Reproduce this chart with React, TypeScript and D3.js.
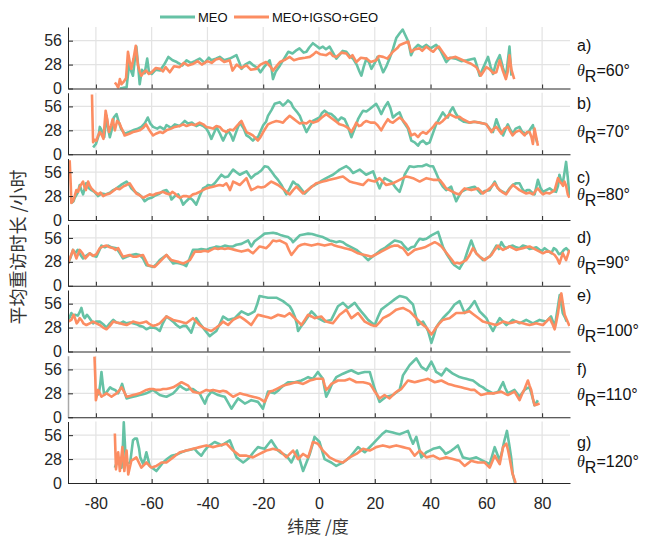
import React, { useEffect, useRef } from "react";
import * as d3 from "d3";

type Pt = [number, number];

const latTicks = [-80, -60, -40, -20, 0, 20, 40, 60, 80];
const valueTicks = [0, 28, 56];
const panelLetters = ["a)", "b)", "c)", "d)", "e)", "f)", "g)"];
const thetaValues = ["60°", "70°", "80°", "90°", "100°", "110°", "120°"];
const seriesNames = ["MEO", "MEO+IGSO+GEO"];

// [latitude, mean revisit hours]
const meoA: Pt[] = [[-71.4,0],[-70,1],[-69,1],[-68,31],[-67.3,20],[-66.7,15],[-65.5,49],[-64.8,25],[-64.3,5],[-63.5,22],[-62.5,18],[-61.6,35],[-61,20],[-60,17],[-58.5,22],[-57,21],[-55.5,28],[-54,37],[-52.5,33],[-51,31],[-49,27],[-47.5,33],[-46,30],[-44.5,32],[-42.8,35],[-41,30],[-39.5,36],[-38.6,33],[-37,35],[-35.6,37],[-34,33],[-32,35],[-29.6,39],[-28.5,30],[-27.8,23],[-26.5,28],[-24.9,31],[-23.5,27],[-22,24],[-21,19],[-19.5,26],[-17.7,33],[-17,23],[-16.5,11],[-15.5,20],[-14,27],[-12.5,35],[-11,43],[-9.5,41],[-8,45],[-7,47],[-5.5,42],[-4.5,43],[-3.5,48],[-2.2,53],[-1,50],[0.2,47],[1.4,49],[2.5,46],[3.8,49],[5,42],[6.2,35],[7.5,40],[8.5,44],[9.8,43],[11,38],[12.2,35],[13.5,28],[14.5,20],[15.2,15],[16,25],[17,35],[18,30],[18.8,23],[20,30],[21,37],[22,28],[23,19],[24,25],[25.3,35],[26.5,46],[27.7,59],[29,65],[30,69],[31,62],[32,55],[33,39],[34,46],[35.5,51],[37,48],[38.5,51],[40,47],[42,51],[43.5,45],[45.6,31],[47,36],[49,35],[51,32],[53,33],[55.8,35],[56.5,28],[57.6,15],[59,25],[60.6,37],[61.5,26],[62.4,17],[63.5,30],[64.8,39],[66,24],[67,13],[68.3,49],[69,15]];
const allA: Pt[] = [[-73.2,7],[-72.5,4],[-72,1],[-71.4,11],[-70.8,5],[-70,8],[-69.2,12],[-68.5,43],[-67.8,30],[-67.3,23],[-66.5,35],[-65.7,50],[-64.9,27],[-64.3,20],[-63.7,15],[-62.8,19],[-62,21],[-61,17],[-60,19],[-58.5,24],[-57,23],[-56,20],[-55,25],[-53.5,19],[-52,26],[-50,25],[-48.5,30],[-47,27],[-45,29],[-43.5,32],[-42,28],[-40,32],[-38.5,30],[-37,34],[-35.6,35],[-34,31],[-32,33],[-31,21],[-29.5,28],[-28,24],[-26,27],[-24.5,22],[-22.5,23],[-21,28],[-19,31],[-17.5,26],[-16.5,21],[-15,27],[-14,31],[-12,34],[-10.5,37],[-9,33],[-7,35],[-5,36],[-3.3,37],[-2,40],[-1,43],[0.5,40],[2.6,39],[4,42],[5,38],[6.2,37],[8,42],[9.8,41],[11,36],[12,39],[13.4,31],[15,36],[17,35],[18.5,31],[20.5,33],[21.5,38],[23,37],[24.5,35],[26.5,43],[28,47],[29,51],[30.5,53],[32,55],[33,43],[34.5,46],[36,47],[37,44],[38.5,49],[40,45],[41,43],[42,47],[43,49],[44.5,42],[46,35],[47.5,36],[49,37],[51,34],[53,31],[54.5,29],[56.4,25],[57.3,20],[58,15],[59,20],[60,25],[61,23],[62.5,18],[63.6,19],[64.8,33],[65.8,22],[67,11],[67.7,20],[68.3,39],[69,22],[70,11]];

const meoB: Pt[] = [[-81,8],[-80,12],[-79.8,14],[-79,22],[-78.6,32],[-77.5,25],[-77,20],[-76.2,45],[-75.5,28],[-75,20],[-74.2,30],[-73.6,43],[-72.6,47],[-71.8,38],[-71,30],[-69.7,24],[-68,26],[-66.7,28],[-65,30],[-63.7,32],[-62.5,36],[-61.4,43],[-60.5,36],[-59.5,32],[-58,30],[-57,32],[-55.5,29],[-54.7,34],[-53,31],[-51.7,35],[-50,33],[-48.1,39],[-47,36],[-45.5,37],[-44,33],[-42.8,35],[-41.5,33],[-40.4,30],[-39.5,25],[-38.6,18],[-37.5,26],[-36.8,32],[-35.5,24],[-34.4,16],[-33.5,22],[-32.6,28],[-31.5,22],[-30.8,16],[-29.5,28],[-28.4,37],[-27,30],[-26,22],[-25,20],[-23.7,16],[-22.8,19],[-21.9,20],[-20,34],[-19,38],[-18.3,45],[-17,52],[-15.9,59],[-15,60],[-14.1,61],[-12.9,57],[-11.9,60],[-11.1,63],[-10,60],[-9.3,55],[-8,50],[-6.9,45],[-5.7,35],[-4.5,26],[-3.3,33],[-2.2,39],[-1,41],[0.2,43],[1,48],[2,51],[3.2,48],[4.4,47],[5.5,44],[6.8,39],[8,43],[9.2,41],[10.3,33],[11.6,20],[12.8,30],[14,41],[15,47],[15.8,51],[17,50],[18.2,53],[19.3,56],[20.5,59],[21.5,53],[22.3,47],[23.5,55],[24.7,61],[25.6,54],[26.5,43],[27.5,46],[28.9,49],[30.1,39],[31.9,30],[33.1,16],[34.3,14],[35.5,10],[36.3,14],[37.3,16],[38.5,12],[39.7,14],[40.9,25],[42,35],[43.2,42],[44.4,49],[45.3,45],[46.2,43],[47,50],[48,55],[49,48],[50.4,41],[52,38],[54,37],[55.8,38],[57.5,37],[59,36],[60,35],[61.2,30],[62.4,26],[63.6,41],[64.8,30],[66,22],[67,30],[67.7,35],[68.7,28],[69.5,24],[70.5,30],[71.9,32],[72.9,26],[74.3,24],[75.5,28],[76.7,34],[77.5,22],[78.2,14]];
const allB: Pt[] = [[-81.4,70],[-81.2,40],[-81,14],[-80.4,17],[-79.8,16],[-79.2,22],[-78.6,26],[-77.8,22],[-77.3,18],[-76.5,51],[-75.9,40],[-75.3,26],[-74.6,33],[-74,41],[-73.2,28],[-72.4,39],[-71.5,36],[-71,32],[-70.3,27],[-69.7,22],[-68,24],[-66.7,26],[-65.5,27],[-64.3,28],[-63,31],[-62,35],[-61,29],[-59.5,22],[-58.5,24],[-57,26],[-56,25],[-54.7,28],[-53,30],[-51.7,32],[-50,33],[-48.7,35],[-47.5,33],[-45.8,35],[-44.5,34],[-42.8,37],[-41.5,35],[-40.4,32],[-39,31],[-38,30],[-36.8,33],[-35.6,32],[-34.5,28],[-33.2,26],[-32,29],[-30.8,28],[-29.5,33],[-27.8,39],[-27,33],[-26,26],[-24.8,24],[-23.7,22],[-22.8,19],[-21.9,16],[-21,20],[-20,26],[-18.3,35],[-17,37],[-15.3,39],[-14,38],[-12.9,37],[-11.8,41],[-10.5,45],[-9.3,42],[-8.1,39],[-6.9,36],[-5.7,37],[-4.5,36],[-3.3,39],[-2,37],[-0.4,39],[1,43],[2.6,47],[3.8,44],[5,41],[6.2,38],[7.4,35],[8.6,34],[9.8,32],[10.7,30],[11.6,26],[12.5,31],[13.4,37],[14.3,33],[15.2,34],[16,37],[17,39],[18.5,37],[20,37],[21,34],[22.3,28],[23.5,35],[24.7,41],[25.6,38],[26.5,37],[27.7,40],[28.9,43],[30,40],[31.3,35],[32.2,30],[33.1,22],[34.3,24],[35.5,20],[36.4,24],[37.3,26],[38.5,24],[39.7,28],[40.9,32],[42,37],[43.2,36],[44.4,39],[45.6,43],[46.8,47],[48,45],[49.2,43],[50.4,44],[51.6,41],[52.8,39],[54,37],[55.5,38],[57.6,37],[59,36],[60,35],[61,30],[61.8,26],[62.7,30],[63.6,32],[64.5,28],[65.4,24],[66.5,30],[67.7,32],[68.5,27],[69.4,22],[70.5,26],[71.9,28],[72.8,25],[73.7,22],[74.6,26],[75.5,26],[76.2,20],[76.7,12],[77.3,30],[77.9,20],[78.5,10]];

const meoC: Pt[] = [[-88.8,20],[-88,22],[-87.6,26],[-86.5,32],[-85.8,41],[-85.2,35],[-84.6,30],[-83.5,43],[-82.8,38],[-81.6,35],[-80.5,33],[-79.2,28],[-78,31],[-76.5,30],[-75,32],[-73.8,35],[-72.6,37],[-71,41],[-69,45],[-68,41],[-67.3,37],[-66,33],[-64.9,31],[-63.5,27],[-62.5,22],[-61.3,25],[-60.1,26],[-58.5,29],[-57.1,31],[-55.9,34],[-54.7,35],[-53.5,30],[-52.9,24],[-51.7,28],[-50.5,30],[-49.6,25],[-48.7,18],[-47.6,22],[-46.3,26],[-45.2,23],[-44,18],[-42.8,28],[-41.6,37],[-40.4,39],[-39.8,41],[-38.5,40],[-37.4,43],[-36.2,48],[-35,53],[-33.8,50],[-32.6,51],[-31.7,55],[-30.8,59],[-29.6,56],[-28.4,53],[-27.2,55],[-26,57],[-25,52],[-24.3,49],[-23,53],[-21.9,55],[-20.7,58],[-19.5,63],[-18.3,62],[-17.1,57],[-16,52],[-14.7,47],[-13.3,40],[-11.7,30],[-10.5,37],[-9.3,45],[-8.3,42],[-7.5,41],[-6.3,36],[-5.1,31],[-3.9,35],[-2.7,39],[-1.5,41],[-0.4,43],[1,46],[2.6,49],[3.8,51],[5,53],[6.2,56],[7.4,59],[8.6,61],[9.8,63],[11,60],[12.2,55],[13.4,57],[14.6,59],[15.8,56],[16.9,53],[18.2,55],[19.4,57],[20.5,47],[21.7,37],[22.6,44],[23.5,49],[24.7,47],[25.9,45],[26.8,41],[27.7,37],[28.9,33],[29.8,42],[30.7,53],[31.6,58],[32.5,63],[34,62],[35.5,63],[37,63],[38.5,65],[39.7,63],[40.9,63],[42,55],[43.3,45],[44.4,39],[45.6,35],[46.5,37],[47.4,39],[48.3,30],[49.2,22],[50,27],[51,33],[52.2,35],[53.4,37],[54.6,38],[55.8,39],[57,35],[58.1,31],[59.5,34],[61.2,35],[62.1,40],[63,45],[64,38],[64.8,35],[66,33],[67.1,31],[68.3,37],[69.5,41],[70.7,43],[71.9,43],[72.8,37],[73.7,33],[74.6,35],[75.5,35],[76.4,32],[77.3,30],[78.5,47],[79.4,38],[80.3,33],[81.5,35],[82.7,37],[84,34],[85,33],[85.7,40],[86.2,53],[86.9,45],[87.4,43],[88,55],[88.6,68],[89.2,50],[89.8,28]];
const allC: Pt[] = [[-89.4,70],[-89,40],[-88.8,20],[-88.2,22],[-87.6,28],[-87,35],[-86.4,33],[-85.8,39],[-85.2,42],[-84.6,45],[-84,38],[-83.6,35],[-82.8,45],[-82.2,40],[-81.6,37],[-80.4,33],[-79.2,30],[-78.3,32],[-77.4,28],[-76.2,30],[-75,31],[-73.8,34],[-72.6,37],[-71.5,36],[-70.3,39],[-69,41],[-67.9,43],[-66.7,37],[-65.5,31],[-64.3,29],[-63.1,26],[-61.9,28],[-60.7,30],[-59.5,29],[-58.3,31],[-57.1,32],[-55.9,33],[-54.7,31],[-53.5,30],[-52.6,33],[-51.7,31],[-50.8,28],[-49.9,26],[-48.7,28],[-47.6,28],[-46.4,27],[-45.2,30],[-44,31],[-42.8,33],[-41.6,35],[-40.4,37],[-39.2,38],[-38,39],[-36.8,40],[-35.6,41],[-34.4,40],[-33.2,43],[-32.5,39],[-31.9,35],[-31.3,40],[-30.8,45],[-29.6,43],[-28.4,41],[-27.2,45],[-26,49],[-25.2,42],[-24.3,35],[-23,37],[-21.9,39],[-20.7,38],[-19.5,39],[-18.3,42],[-17.1,45],[-15.9,43],[-14.7,41],[-13.5,38],[-12.3,35],[-11.4,32],[-10.5,30],[-9.3,35],[-8.1,39],[-6.9,35],[-5.7,31],[-4.5,34],[-3.3,37],[-2.1,40],[-1,43],[0.2,44],[1.4,45],[2.6,46],[3.8,47],[5,48],[6.2,49],[7.4,50],[8.6,51],[9.8,48],[11,45],[12.2,44],[13.4,43],[14.6,42],[15.8,41],[16.7,44],[17.6,47],[18.8,46],[20,45],[20.9,47],[21.7,49],[22.9,45],[24.1,41],[25.3,42],[26.5,43],[27.7,45],[28.9,47],[30.1,49],[31.3,51],[32.5,50],[33.7,49],[34.9,47],[36.1,45],[37.3,47],[38.5,49],[39.7,48],[40.9,47],[42.1,47],[43.3,47],[44.5,42],[45.6,37],[46.8,35],[48,33],[49.2,31],[50.4,30],[51.3,34],[52.2,37],[53.4,36],[54.6,35],[55.8,36],[57,37],[57.9,34],[58.8,31],[60,34],[61.2,37],[62.1,40],[63,43],[64,38],[64.8,35],[66,32],[67.1,30],[68.3,36],[69.5,41],[70.7,38],[71.9,35],[73.1,33],[74.3,31],[75.5,32],[76.7,30],[77.6,34],[78.5,37],[79.4,33],[80.3,30],[81.5,32],[82.7,31],[83.6,33],[84.5,35],[85.1,42],[85.7,49],[86.3,45],[86.9,43],[87.5,40],[88,45],[88.6,40],[89.2,30],[89.8,26]];

const meoD: Pt[] = [[-90,26],[-89.1,33],[-88.2,42],[-87.4,38],[-86.5,42],[-85.5,36],[-84.6,32],[-83.5,35],[-82.2,38],[-81,35],[-79.8,34],[-78,47],[-76.8,45],[-75.6,47],[-74.4,45],[-72.6,44],[-71.4,38],[-70.3,32],[-69,34],[-67.3,36],[-65.5,37],[-64.3,36],[-63.1,32],[-61.9,24],[-60.7,23],[-59.5,22],[-58.3,25],[-57.1,30],[-55.9,33],[-54.7,36],[-53.5,31],[-52.3,26],[-51.1,27],[-49.9,26],[-48.7,25],[-47.6,23],[-46.4,32],[-45.2,42],[-43.4,42],[-42.2,43],[-40.4,42],[-39,44],[-37.4,45],[-36.8,46],[-35.2,45],[-33.8,47],[-32.3,46],[-30.8,46],[-29.6,48],[-27.8,49],[-26.6,51],[-25.4,53],[-24.3,46],[-23.1,52],[-21.9,55],[-20.7,58],[-19.5,61],[-18,61.5],[-16.5,62],[-15,61],[-13.5,59],[-12.3,58],[-11.1,57],[-9.9,54],[-9.3,51],[-8.1,55],[-6.9,59],[-5.5,60],[-3.9,61],[-2.5,60.5],[-1,59],[0.2,58],[1.4,57],[2.6,55],[3.8,53],[5,52],[6.2,51],[7.4,52],[8.6,51],[9.8,48],[11,46],[12.2,44],[13.4,42],[14.6,39],[15.8,36],[16.7,33],[17.6,30],[18.8,33],[20,36],[21.1,39],[22.3,42],[23.5,44],[24.7,47],[25.9,50],[27.1,53],[28.3,52],[29.5,51],[30.7,46],[31.9,42],[33.1,45],[34.3,46],[35.2,51],[36.1,55],[37.3,54],[38.5,55],[39.4,57],[40.3,59],[41.5,61],[42.7,63],[43.5,55],[44.4,46],[45.6,38],[46.8,32],[47.7,27],[48.6,24],[49.5,22],[50.4,20],[51.3,25],[52.2,30],[53.4,42],[54.6,53],[55.5,45],[56.4,38],[57.6,34],[58.8,30],[60,32],[61.2,34],[62.4,40],[63.6,47],[64.5,43],[65.4,51],[66.3,46],[67.2,44],[68.3,46],[69.5,47],[70.7,45],[71.9,44],[73.1,47],[74.3,46],[75.5,43],[76.7,44],[77.9,45],[79.1,42],[80,41],[80.9,44],[82.1,41],[83.3,38],[84.2,44],[85.1,42],[86,37],[86.9,38],[87.8,42],[88.6,44],[89.8,40]];
const allD: Pt[] = [[-90,26],[-89.1,34],[-88.2,42],[-87.4,36],[-87,32],[-85.8,42],[-84.8,38],[-83.8,32],[-82.2,38],[-81,35],[-79.8,37],[-78.6,44],[-77.4,46],[-76.2,47],[-75,45],[-73.8,44],[-72.9,42],[-72,44],[-71,38],[-70.3,34],[-69,35],[-67.9,36],[-66.7,34],[-65.5,34],[-64.3,35],[-63.1,36],[-62.2,30],[-61.3,24],[-60.1,23],[-58.9,22],[-58,25],[-57.1,28],[-55.9,32],[-54.7,36],[-53.8,33],[-52.9,30],[-51.7,29],[-50.5,28],[-49.6,27],[-48.7,26],[-47.5,28],[-46.3,30],[-45.4,35],[-44.5,40],[-43.3,40],[-42.2,40],[-41,41],[-39.8,40],[-38.6,42],[-37.4,44],[-36.2,43],[-35,44],[-33.8,43],[-32.6,44],[-31.4,43],[-30.2,42],[-29,41],[-27.8,40],[-26.6,41],[-25.4,42],[-24.6,40],[-23.7,38],[-22.5,42],[-21.3,46],[-20.1,45],[-18.9,44],[-17.7,48],[-16.5,53],[-15.3,52],[-14.1,53],[-12.9,51],[-11.7,49],[-10.8,42],[-9.9,36],[-8.7,41],[-7.5,46],[-6.3,48],[-5.1,49],[-3.9,48],[-2.7,47],[-1.5,48],[-0.4,49],[0.8,48],[2,47],[3.2,48],[4.4,49],[5.6,47],[6.8,46],[8,45],[9.2,44],[10.4,43],[11.6,42],[12.8,40],[14,38],[15.2,37],[16.4,36],[17.6,35],[18.8,34],[20,36],[21.2,38],[22.3,40],[23.5,42],[24.7,44],[25.9,46],[27.1,47],[28.3,47],[29.2,45],[30.1,44],[31,40],[31.9,36],[33.1,39],[34.3,42],[35.5,43],[36.7,44],[37.9,45],[39.1,47],[40.3,49],[41.5,51],[42.7,49],[43.9,46],[45.1,41],[46.3,36],[47.5,31],[48.6,26],[49.5,27],[50.4,26],[51.6,28],[52.8,30],[54,36],[55.2,44],[56.4,38],[57.6,34],[58.5,32],[59.4,30],[60.6,33],[61.8,36],[63,42],[64.2,47],[65.1,44],[66,42],[67.2,44],[68.3,46],[69.5,44],[70.7,42],[71.9,43],[73.1,44],[74.3,45],[75.5,46],[76.7,44],[77.9,42],[79.1,40],[80.3,38],[81.5,40],[82.7,40],[83.6,38],[84.5,36],[85.4,32],[86.2,26],[87.4,38],[88,34],[88.6,30],[89.8,42]];

const meoE: Pt[] = [[-90,37],[-89.4,40],[-88.8,45],[-88,41],[-87.5,43],[-86.5,42],[-85.8,46],[-85.2,51],[-84.5,42],[-84,39],[-83.2,43],[-82.5,40],[-81,33],[-80,35],[-78.6,35],[-77.4,32],[-76.2,28],[-75,33],[-73.8,37],[-72.6,34],[-71.4,33],[-70.2,35],[-69,33],[-67.8,34],[-66.7,33],[-65.5,32],[-64.3,30],[-63.1,29],[-61.9,26],[-60.7,28],[-59.5,28],[-58.3,27],[-57.1,24],[-56,33],[-54.7,41],[-53.5,38],[-52.3,35],[-51.1,31],[-49.9,28],[-48.7,30],[-47.6,30],[-46.7,26],[-45.8,22],[-45,30],[-44,39],[-42.8,33],[-41.6,28],[-40.4,23],[-39.2,18],[-38,21],[-36.8,24],[-35.6,32],[-34.4,41],[-33.5,39],[-32.6,37],[-31.4,38],[-30.2,39],[-29,43],[-27.8,47],[-26.6,45],[-25.4,43],[-24.2,45],[-23.1,47],[-22.2,55],[-21.3,65],[-20,64],[-18.3,63],[-16.8,63],[-15.3,63],[-14.1,61],[-12.9,59],[-11.7,56],[-10.5,53],[-9.6,48],[-8.7,41],[-8,33],[-7.5,24],[-6.3,30],[-5.1,35],[-3.9,41],[-2.7,47],[-1.5,43],[-0.4,39],[0.8,37],[2,35],[3.2,36],[4.4,37],[5.6,45],[6.8,53],[7.7,55],[8.6,57],[9.5,54],[10.4,51],[11.6,54],[12.8,57],[13.9,52],[15.1,47],[16.4,42],[17.6,37],[18.8,34],[20,31],[21.1,40],[22.3,49],[23.5,52],[24.7,55],[25.9,58],[27.1,61],[28,63],[28.9,65],[30.1,64],[31.3,63],[32.5,59],[33.7,55],[34.6,43],[35.5,31],[36.4,33],[37.3,35],[38.2,30],[39.1,24],[39.7,17],[40.3,10],[41.2,19],[42,28],[43.2,34],[44.4,39],[45.6,43],[46.8,47],[47.7,51],[48.6,55],[49.5,57],[50.4,59],[51.3,52],[52.2,45],[53.1,48],[54,51],[54.9,55],[55.8,59],[56.7,53],[57.6,47],[58.8,43],[60,39],[61.2,31],[62.4,24],[63.6,32],[64.8,39],[66,35],[67.2,31],[68.3,34],[69.5,37],[70.7,35],[71.9,33],[73.1,35],[74.3,37],[75.5,35],[76.7,33],[77.9,35],[79.1,37],[80.2,36],[81.4,35],[82.3,38],[83.2,41],[83.9,35],[84.5,28],[85.4,47],[86.3,66],[86.9,55],[87.4,45],[88.2,40],[88.8,35]];
const allE: Pt[] = [[-90,35],[-89.4,36],[-88.8,37],[-88,43],[-87.6,40],[-86.9,33],[-86.4,35],[-85.8,39],[-85,36],[-84.5,33],[-83.4,31],[-82.2,33],[-81,35],[-79.8,33],[-78.6,31],[-77.4,28],[-76.2,26],[-75,30],[-73.8,35],[-72.6,34],[-71.4,33],[-70.2,32],[-69,31],[-67.8,33],[-66.7,35],[-65.5,34],[-64.3,33],[-63.1,34],[-61.9,35],[-60.7,32],[-59.5,30],[-58.3,31],[-57.1,33],[-55.9,37],[-54.7,41],[-53.5,39],[-52.3,37],[-51.1,36],[-49.9,35],[-48.7,34],[-47.6,33],[-46.4,36],[-45.2,39],[-44,35],[-42.8,31],[-41.6,28],[-40.4,26],[-39.5,25],[-38.6,24],[-37.7,26],[-36.8,28],[-35.6,31],[-34.4,35],[-33.5,33],[-32.6,31],[-31.7,34],[-30.8,37],[-29.6,39],[-28.4,41],[-27.5,39],[-26.6,37],[-25.4,34],[-24.3,31],[-23.1,37],[-21.9,43],[-20.7,42],[-19.5,41],[-18.3,40],[-17.1,39],[-15.9,41],[-14.7,43],[-13.5,42],[-12.3,41],[-11.4,43],[-10.5,45],[-9.3,41],[-8.1,37],[-7.2,34],[-6.3,31],[-5.1,37],[-3.9,43],[-2.7,41],[-1.6,39],[-0.4,40],[0.8,41],[1.7,38],[2.6,35],[3.8,34],[5,33],[6.2,38],[7.4,43],[8.6,46],[9.8,49],[10.7,44],[11.6,39],[12.8,42],[14,45],[15.2,40],[16.4,35],[17.6,33],[18.8,31],[19.7,30],[20.5,30],[21.7,34],[22.9,39],[24.1,41],[25.3,43],[26.5,46],[27.7,49],[28.9,50],[30.1,51],[31.3,49],[32.5,47],[33.4,44],[34.3,41],[35.2,38],[36.1,35],[37.3,31],[38.5,28],[39.4,24],[40.3,20],[41.2,24],[42,28],[43.2,33],[44.4,37],[45.6,38],[46.8,39],[48,42],[49.2,45],[50.4,45],[51.6,45],[52.8,46],[54,47],[55.2,44],[56.4,41],[57.6,38],[58.8,35],[60,34],[61.2,33],[62.4,32],[63.6,31],[64.8,33],[66,35],[67.2,34],[68.3,33],[69.5,34],[70.7,35],[71.9,34],[73.1,33],[74.3,32],[75.5,31],[76.7,32],[77.9,33],[79.1,32],[80.3,31],[81.5,35],[82.7,39],[83.6,33],[84.5,26],[85.1,35],[85.7,45],[86.3,60],[86.9,68],[87.5,55],[88.1,43],[89,36],[89.8,30]];

const meoF: Pt[] = [[-80,24],[-79.5,26],[-78.9,28],[-78.4,40],[-78,53],[-77.5,38],[-77,26],[-76,30],[-74.9,35],[-74,33],[-73.1,32],[-72,28],[-71.3,33],[-70.6,39],[-69.8,30],[-69,22],[-67.8,23],[-66.7,24],[-65.5,25],[-64.3,26],[-63.1,27],[-61.9,28],[-60.7,30],[-59.5,32],[-58.3,29],[-57.1,26],[-55.9,25],[-54.7,24],[-53.5,26],[-52.3,28],[-51.1,32],[-49.9,37],[-48.7,34],[-47.6,32],[-46.4,33],[-45.2,33],[-44,30],[-42.8,28],[-41.9,22],[-40.9,16],[-40,24],[-38.6,30],[-37.4,28],[-36.2,26],[-35,25],[-33.8,24],[-32.6,17],[-31.4,10],[-30.2,16],[-29,22],[-27.8,19],[-26.6,16],[-25.4,18],[-24.3,20],[-23.1,19],[-21.9,18],[-21,14],[-20.1,10],[-19.2,20],[-18.3,30],[-17.1,29],[-15.9,28],[-14.7,31],[-13.5,35],[-12.3,38],[-11.1,41],[-9.9,41],[-8.7,41],[-7.5,42],[-6.3,43],[-5.1,45],[-3.9,47],[-3.1,46],[-2.2,45],[-1.3,49],[-0.4,53],[0.5,49],[1.4,45],[2,34],[2.6,24],[3.5,30],[4.4,37],[5.3,42],[6.2,47],[7.4,49],[8.6,51],[10,53],[11.6,55],[12.8,53],[14,51],[15.2,52],[16.4,53],[17.3,53],[18.2,53],[19.1,43],[20,33],[20.9,25],[21.7,18],[22.9,21],[24.1,24],[25.3,25],[26.5,26],[27.7,29],[28.9,32],[29.5,40],[30.1,49],[31.3,55],[32.5,61],[33.7,65],[34.9,69],[35.8,64],[36.7,59],[37.6,57],[38.5,55],[39.4,60],[40.3,65],[41.2,59],[42,53],[43,51],[43.9,49],[44.8,53],[45.6,57],[46.8,54],[48,51],[49.2,49],[50.4,47],[51.6,46],[52.8,45],[54,44],[55.2,43],[56.4,40],[57.6,37],[58.8,35],[60,32],[61.2,30],[62.4,28],[63.4,29],[64.3,30],[65.2,36],[66,41],[66.8,34],[67.7,28],[68.9,30],[70.1,32],[71,28],[71.9,24],[72.8,28],[73.7,32],[74.6,34],[75.5,35],[76.4,25],[77.3,14],[77.9,17],[78.5,20]];
const allF: Pt[] = [[-80.5,71],[-80.2,45],[-80,20],[-79.6,26],[-79.2,32],[-78.6,28],[-78,24],[-77.1,26],[-76.2,28],[-75.3,26],[-74.4,24],[-73.5,26],[-72.6,28],[-71.7,31],[-70.8,35],[-69.9,30],[-69,24],[-67.8,25],[-66.7,26],[-65.5,27],[-64.3,28],[-63.1,30],[-61.9,32],[-60.7,33],[-59.5,33],[-58.3,32],[-57.1,32],[-55.9,33],[-54.7,33],[-53.5,34],[-52.3,35],[-50.8,38],[-49.3,41],[-48.1,39],[-46.9,37],[-46,33],[-45.2,30],[-44,29],[-42.8,28],[-41.6,30],[-40.4,32],[-39.2,31],[-38,32],[-36.8,31],[-35.6,30],[-34.4,31],[-33.2,30],[-32,27],[-30.8,24],[-29.6,26],[-28.4,28],[-27.2,27],[-26,26],[-24.8,25],[-23.7,24],[-22.5,23],[-21.3,22],[-20.4,20],[-19.5,18],[-18.6,24],[-17.7,30],[-16.5,31],[-15.3,33],[-14.1,35],[-12.9,37],[-11.7,38],[-10.5,39],[-9.3,40],[-8.1,41],[-6.9,40],[-5.7,39],[-4.5,41],[-3.3,43],[-2.2,44],[-1,45],[0.2,45],[1.4,45],[2,38],[2.6,32],[3.5,35],[4.4,39],[5.6,41],[6.8,43],[8,43],[9.2,43],[10.1,44],[11,45],[12.2,43],[13.4,41],[14.6,41],[15.8,41],[17,40],[18.2,39],[19.1,35],[20,30],[20.9,26],[21.7,22],[22.6,24],[23.5,26],[24.4,24],[25.3,22],[26.2,25],[27.1,28],[28.3,31],[29.5,33],[30.7,38],[31.9,43],[33.1,42],[34.3,41],[35.5,42],[36.7,43],[37.9,44],[39.1,45],[40.3,43],[41.5,41],[42.7,42],[43.9,43],[45.1,41],[46.3,39],[47.5,38],[48.6,37],[49.8,36],[51,35],[52.2,34],[53.4,33],[54.6,32],[55.8,32],[56.9,29],[58.1,26],[59.3,27],[60.5,28],[61.7,28],[62.9,28],[64.1,29],[65.3,30],[66.5,28],[67.7,26],[68.9,28],[70.1,30],[71,25],[71.9,20],[72.8,27],[73.7,33],[74.3,38],[74.9,43],[75.5,37],[76.1,32],[76.7,22],[77.3,14],[78.2,15],[79.1,16]];

const meoG: Pt[] = [[-73.2,18],[-72.5,24],[-72,30],[-71.3,24],[-70.8,18],[-70.3,45],[-70,71],[-69.5,40],[-69.2,22],[-68.5,23],[-67.7,24],[-67.2,37],[-66.7,50],[-66,52],[-65.3,52],[-64.5,40],[-64.1,30],[-63,22],[-62.5,28],[-61.9,36],[-61.3,28],[-60.7,20],[-59.5,17],[-58.3,14],[-57.1,19],[-55.9,24],[-54.5,28],[-52.9,32],[-51.5,33],[-50.5,34],[-49.3,36],[-47.6,38],[-46.2,39],[-44.6,40],[-43.6,36],[-42.2,32],[-41.2,37],[-40,42],[-38.7,45],[-37.4,48],[-36,46],[-34.9,44],[-33.5,47],[-32,50],[-30.8,40],[-29.6,30],[-28.4,27],[-27.2,24],[-26,27],[-24.9,30],[-23.5,36],[-21.9,42],[-20.7,41],[-19.5,40],[-18.3,45],[-17.1,50],[-15.9,44],[-14.7,38],[-13.5,35],[-11.7,32],[-10.8,28],[-9.9,24],[-8.9,31],[-7.9,38],[-6.8,26],[-5.7,14],[-4.5,24],[-3.3,34],[-2.4,44],[-1.6,54],[-0.7,51],[0.2,48],[1.1,38],[2,28],[3.2,26],[4.4,24],[5.3,22],[6.2,20],[7.4,22],[8.6,24],[9.8,27],[11,30],[12.5,36],[14,42],[15.2,39],[16.4,36],[17.9,41],[19.4,46],[20.5,50],[21.7,54],[22.9,58],[24.1,61],[25.3,60],[26.5,59],[27.7,58],[28.9,57],[30.4,59],[31.9,61],[32.8,53],[33.7,46],[34.3,50],[34.9,54],[35.8,42],[36.7,30],[37.6,33],[38.5,36],[39.7,38],[40.9,40],[42.1,41],[43.3,42],[44.5,38],[45.4,34],[46.5,36],[47.5,38],[48.7,41],[49.8,44],[50.7,37],[51.6,30],[52.8,29],[54,28],[55.2,29],[56.4,30],[57.6,28],[58.8,26],[60,24],[61.2,22],[62.1,32],[63,42],[63.9,34],[64.8,26],[65.7,38],[66.5,50],[67,56],[67.4,61],[68.2,45],[68.9,30],[69.5,10],[70.3,0]];
const allG: Pt[] = [[-73.2,58],[-72.8,16],[-72,36],[-71.4,14],[-70.5,42],[-69.8,14],[-69,38],[-68.4,10],[-67.3,26],[-66.4,28],[-65.5,30],[-64.6,24],[-63.7,18],[-62.8,21],[-61.9,24],[-61,21],[-60.1,18],[-59.2,19],[-58.3,20],[-57.4,22],[-56.5,24],[-55.6,24],[-54.7,24],[-53.5,27],[-52.3,30],[-51.1,33],[-49.9,36],[-48.7,37],[-47.6,38],[-46.4,39],[-45.2,40],[-44,41],[-42.8,42],[-41.6,43],[-40.4,44],[-39.2,43],[-38,42],[-36.8,43],[-35.6,44],[-34.4,45],[-33.2,46],[-32,42],[-30.8,38],[-29.6,35],[-28.4,32],[-27.2,32],[-26,32],[-24.9,31],[-23.7,30],[-22.5,32],[-21.3,34],[-20.1,36],[-18.9,38],[-17.7,39],[-16.5,40],[-15.3,39],[-14.1,38],[-12.9,34],[-11.7,30],[-10.5,34],[-9.3,38],[-8.4,33],[-7.5,28],[-6.6,31],[-5.7,34],[-4.8,32],[-3.9,30],[-3,39],[-2.2,48],[-1.3,47],[-0.4,46],[0.5,42],[1.4,38],[2.6,34],[3.8,30],[5,28],[6.2,26],[7.4,25],[8.6,24],[9.8,27],[11,30],[12.2,32],[13.4,34],[14.6,37],[15.8,40],[17,39],[18.2,38],[19.4,40],[20.5,42],[21.7,43],[22.9,44],[24.1,43],[25.3,42],[26.5,43],[27.7,44],[28.9,43],[30.1,42],[31.3,41],[32.5,40],[33.4,36],[34.3,32],[35.2,35],[36.1,38],[37.3,34],[38.5,30],[39.7,31],[40.9,32],[42.1,30],[43.3,28],[44.5,29],[45.6,30],[46.8,29],[48,28],[49.2,27],[50.4,26],[51.3,23],[52.2,20],[53.4,23],[54.6,26],[55.8,25],[57,24],[58.2,24],[59.4,24],[60.3,21],[61.2,18],[62.1,25],[63,32],[63.9,27],[64.8,22],[65.4,32],[66,42],[66.6,44],[67.2,46],[67.8,38],[68.3,30],[68.8,21],[69.3,12],[69.9,6],[70.5,0]];

const meoSeries = [meoA, meoB, meoC, meoD, meoE, meoF, meoG];
const allSeries = [allA, allB, allC, allD, allE, allF, allG];

const App = () => {
	const svgRef = useRef(null);

	useEffect(() => {
		drawChart();
	}, []);

	const drawChart = () => {
		const svg = d3.select(svgRef.current);
		svg.selectAll("*").remove();

		const font = "'Liberation Sans', Arial, Helvetica, sans-serif";
		const cjk = "'Noto Sans CJK SC', sans-serif";
		const ink = "#262626";
		const colors = ["#66c2a5", "#fc8d62"];

		const left = 68;
		const right = 570;
		const panelH = 61.5;
		const panelStep = 65.75;
		const firstBottom = 88.5;
		// per-panel vertical offsets of the right-hand labels
		const letterDy = [18, 11, 19, 13, 5, 14, 21];
		const thetaDy = [43, 39, 36, 38, 40, 39, 40];

		const x = d3.scaleLinear().domain([-90, 90]).range([left, right]);

		meoSeries.forEach((meo, i) => {
			const bottom = firstBottom + i * panelStep;
			const top = bottom - panelH;
			const y = d3.scaleLinear().domain([0, 72]).range([bottom, top]);
			const g = svg.append("g");

			// grid
			g.selectAll(".vgrid")
				.data(latTicks)
				.enter()
				.append("line")
				.attr("x1", (d) => x(d))
				.attr("x2", (d) => x(d))
				.attr("y1", top)
				.attr("y2", bottom)
				.attr("stroke", "#e3e3e3")
				.attr("stroke-width", 1.2);
			g.selectAll(".hgrid")
				.data(valueTicks.slice(1))
				.enter()
				.append("line")
				.attr("x1", left)
				.attr("x2", right)
				.attr("y1", (d) => y(d))
				.attr("y2", (d) => y(d))
				.attr("stroke", "#e3e3e3")
				.attr("stroke-width", 1.2);

			const clipId = `clip-${i}`;
			svg.append("clipPath")
				.attr("id", clipId)
				.append("rect")
				.attr("x", left)
				.attr("y", top - 1)
				.attr("width", right - left)
				.attr("height", panelH + 1);

			const line = d3
				.line<Pt>()
				.x((d) => x(d[0]))
				.y((d) => y(d[1]));

			[meo, allSeries[i]].forEach((data, k) => {
				g.append("path")
					.attr("d", line(data))
					.attr("fill", "none")
					.attr("stroke", colors[k])
					.attr("stroke-width", 2.6)
					.attr("stroke-linejoin", "round")
					.attr("clip-path", `url(#${clipId})`);
			});

			// axes
			const xa = g
				.append("g")
				.attr("transform", `translate(0,${bottom})`)
				.call(
					d3
						.axisBottom(x)
						.tickValues(latTicks)
						.tickSize(-4)
						.tickSizeOuter(0)
						.tickPadding(15)
						.tickFormat((d) => (i === 6 ? String(d) : ""))
				);
			const ya = g
				.append("g")
				.attr("transform", `translate(${left},0)`)
				.call(
					d3
						.axisLeft(y)
						.tickValues(valueTicks)
						.tickSize(-5)
						.tickSizeOuter(0)
						.tickPadding(6)
						.tickFormat((d) => String(d))
				);
			[xa, ya].forEach((a) => {
				a.selectAll("path,line").attr("stroke", ink).attr("stroke-width", 1);
				a.selectAll("text")
					.attr("font-size", 16)
					.attr("font-family", font)
					.attr("fill", ink);
			});
			if (i === 5) ya.select("path").attr("stroke", "#a8a8a8").attr("stroke-width", 1.5);

			// panel labels
			g.append("text")
				.attr("x", 577)
				.attr("y", top + letterDy[i])
				.attr("dominant-baseline", "central")
				.attr("font-size", 16)
				.attr("font-family", font)
				.attr("fill", "#111")
				.text(panelLetters[i]);
			const t = g
				.append("text")
				.attr("x", 577)
				.attr("y", top + thetaDy[i] + 5.5)
				.attr("font-size", 16)
				.attr("font-family", font)
				.attr("fill", "#111");
			t.append("tspan")
				.attr("font-family", "'Liberation Serif', 'DejaVu Serif', serif")
				.attr("font-style", "italic")
				.text("θ");
			t.append("tspan").attr("dy", 6).text("R");
			t.append("tspan").attr("dy", -6).text("=" + thetaValues[i]);
		});

		// axis titles
		svg.append("text")
			.attr("x", 318)
			.attr("y", 533)
			.attr("text-anchor", "middle")
			.attr("font-size", 17)
			.attr("font-family", cjk)
			.attr("fill", "#333")
			.text("纬度 /度");
		svg.append("text")
			.attr("transform", "translate(25,247) rotate(-90)")
			.attr("text-anchor", "middle")
			.attr("font-size", 18)
			.attr("font-family", cjk)
			.attr("fill", "#333")
			.text("平均重访时长 /小时");

		// legend
		const legendX = [160, 234];
		seriesNames.forEach((name, k) => {
			const lg = svg.append("g").attr("transform", `translate(${legendX[k]},17)`);
			lg.append("line")
				.attr("x1", 0)
				.attr("x2", 35)
				.attr("stroke", colors[k])
				.attr("stroke-width", 2.8);
			lg.append("text")
				.attr("x", 38)
				.attr("dominant-baseline", "central")
				.attr("font-size", 13)
				.attr("font-family", font)
				.attr("fill", "#111")
				.text(name);
		});
	};

	return (
		<svg
			ref={svgRef}
			width={649}
			height={538}
			style={{ position: "absolute", left: 0, top: 0, background: "#fff" }}
		></svg>
	);
};

export default App;
